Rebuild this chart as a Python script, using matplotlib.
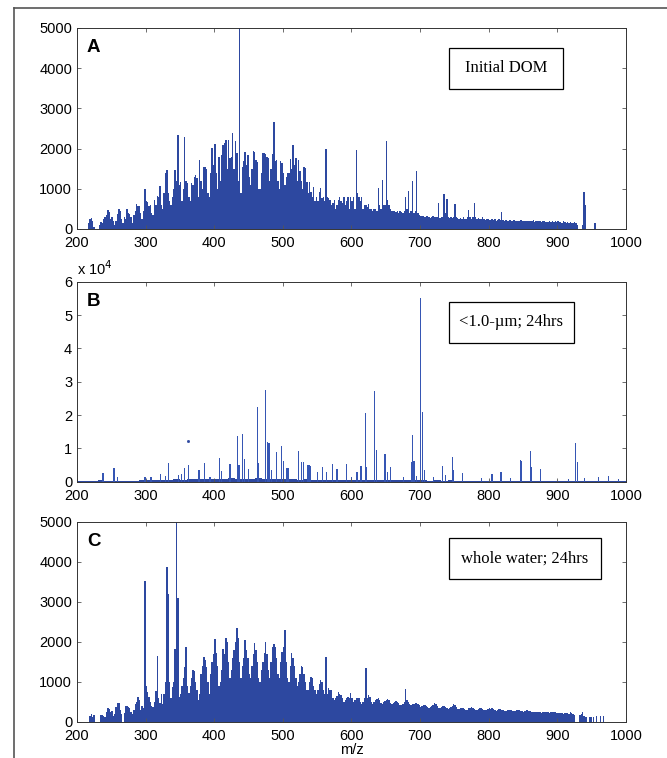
import numpy as np
import matplotlib
matplotlib.use("Agg")
import matplotlib.pyplot as plt
from matplotlib.patches import Rectangle
from matplotlib.lines import Line2D

plt.rcParams['font.family'] = ['Liberation Sans', 'DejaVu Sans']

# --- Panel A : Initial DOM, one row = one 14-Da cluster of odd masses (201, 203, ... 213 ; 215 ...)
a_rows = [
    [150, 10, 10, 10, 10, 10, 10],
    [10, 150, 250, 280, 200, 60, 10],
    [10, 10, 90, 180, 150, 240, 300],
    [350, 460, 430, 250, 310, 200, 100],
    [200, 380, 500, 450, 250, 150, 300],
    [250, 490, 400, 380, 300, 150, 350],
    [450, 610, 560, 560, 400, 250, 450],
    [1000, 700, 680, 560, 600, 400, 350],
    [720, 600, 820, 800, 1070, 600, 500],
    [900, 1390, 1470, 900, 700, 600, 800],
    [1000, 1470, 1200, 2340, 1100, 1180, 700],
    [1000, 2300, 1200, 1140, 800, 700, 1150],
    [1100, 1300, 1350, 1260, 800, 1720, 1200],
    [1000, 1550, 1550, 1500, 900, 800, 1400],
    [2010, 1600, 2110, 1400, 1000, 1800, 1200],
    [1840, 2090, 2130, 2220, 1500, 2210, 1760],
    [1800, 2400, 1500, 2190, 1900, 1200, 5200],
    [900, 1550, 1700, 1920, 1600, 1840, 1300],
    [1100, 1500, 1930, 1920, 1720, 1670, 1000],
    [1000, 1400, 1880, 1900, 1860, 1800, 1760],
    [1200, 1500, 1860, 2670, 1700, 1720, 1200],
    [1000, 1680, 1630, 1400, 1100, 1300, 1390],
    [1390, 1730, 1500, 2090, 1600, 1760, 1200],
    [1720, 1430, 1200, 1000, 1550, 1510, 1180],
    [900, 1180, 930, 800, 1050, 700, 800],
    [700, 930, 1010, 760, 800, 700, 1990],
    [800, 760, 720, 600, 650, 720, 500],
    [600, 720, 800, 700, 650, 800, 600],
    [700, 800, 500, 800, 700, 800, 500],
    [1960, 900, 800, 700, 800, 500, 600],
    [600, 550, 610, 500, 500, 450, 500],
    [500, 450, 1010, 600, 500, 1220, 600],
    [600, 2190, 720, 600, 500, 450, 450],
    [450, 420, 450, 400, 450, 420, 400],
    [450, 800, 500, 945, 400, 450, 1200],
    [400, 450, 1430, 400, 350, 330, 330],
    [330, 300, 320, 330, 300, 280, 300],
    [320, 300, 300, 300, 640, 280, 300],
    [300, 860, 400, 740, 300, 280, 300],
    [280, 300, 610, 300, 280, 260, 280],
    [250, 310, 250, 260, 300, 470, 300],
    [260, 300, 640, 300, 250, 280, 240],
    [250, 300, 240, 220, 260, 250, 220],
    [230, 260, 220, 240, 210, 220, 250],
    [220, 415, 220, 200, 230, 200, 210],
    [220, 200, 210, 230, 200, 190, 210],
    [200, 220, 190, 200, 210, 190, 200],
    [210, 190, 200, 220, 180, 200, 190],
    [190, 200, 180, 210, 190, 170, 180],
    [180, 200, 170, 190, 180, 200, 170],
    [190, 170, 180, 160, 190, 170, 160],
    [170, 160, 180, 150, 160, 170, 150],
    [100, 10, 10, 10, 100, 930, 600],
    [10, 10, 10, 10, 10, 10, 140],
    [10, 10, 10, 10, 10, 10, 10],
    [10, 10, 10, 10, 10, 10, 10],
    [10, 10, 10, 10, 10, 10, 10],
]

# --- Panel C : whole water 24 hrs, same layout
c_rows = [
    [10, 10, 10, 10, 10, 10, 10],
    [10, 10, 150, 200, 130, 180, 10],
    [10, 10, 10, 170, 175, 160, 120],
    [250, 340, 320, 260, 280, 150, 200],
    [380, 470, 470, 300, 200, 10, 220],
    [400, 400, 380, 340, 250, 200, 300],
    [450, 500, 630, 550, 300, 400, 350],
    [3520, 900, 750, 630, 500, 400, 380],
    [500, 775, 1640, 600, 480, 700, 450],
    [700, 1000, 3870, 3200, 1000, 600, 880],
    [1000, 1830, 5200, 3100, 630, 700, 900],
    [1100, 1380, 1880, 900, 720, 900, 1100],
    [1300, 1280, 1000, 800, 550, 700, 1200],
    [1400, 1630, 1550, 1380, 1000, 700, 1200],
    [1500, 1700, 2075, 1720, 1400, 900, 1000],
    [1300, 1830, 1700, 2090, 2010, 1500, 1100],
    [1300, 1600, 1800, 2000, 2340, 2090, 1500],
    [1100, 1400, 1600, 2050, 1800, 1600, 1200],
    [1100, 1400, 1700, 1970, 1800, 1500, 1100],
    [1000, 1300, 1500, 1720, 2010, 1700, 1300],
    [1100, 1500, 1880, 1940, 1880, 1600, 1200],
    [1100, 1500, 1760, 1880, 2300, 1500, 1100],
    [1000, 1400, 1720, 1590, 1400, 1100, 900],
    [1000, 1200, 1400, 1380, 1200, 1000, 800],
    [800, 1000, 1130, 1090, 900, 800, 700],
    [800, 950, 1050, 1010, 800, 700, 1630],
    [700, 840, 800, 800, 600, 550, 600],
    [650, 760, 700, 680, 600, 500, 550],
    [600, 630, 600, 730, 600, 500, 550],
    [600, 610, 600, 500, 450, 500, 610],
    [1360, 600, 680, 630, 500, 450, 500],
    [550, 570, 590, 550, 480, 450, 500],
    [520, 560, 575, 550, 480, 450, 480],
    [500, 525, 510, 480, 430, 420, 450],
    [500, 820, 550, 500, 450, 420, 440],
    [460, 470, 480, 450, 420, 380, 400],
    [420, 425, 410, 380, 360, 380, 400],
    [430, 470, 440, 400, 360, 350, 380],
    [390, 400, 380, 350, 330, 340, 380],
    [400, 440, 420, 380, 330, 320, 340],
    [360, 350, 330, 300, 310, 340, 360],
    [370, 360, 330, 300, 300, 320, 340],
    [340, 330, 310, 290, 290, 320, 340],
    [330, 340, 320, 290, 280, 300, 320],
    [320, 310, 300, 280, 280, 300, 310],
    [300, 290, 280, 270, 280, 300, 300],
    [290, 280, 270, 260, 270, 290, 300],
    [280, 270, 250, 240, 250, 260, 260],
    [250, 240, 230, 240, 250, 260, 250],
    [240, 230, 250, 260, 250, 240, 230],
    [230, 220, 230, 220, 210, 230, 220],
    [220, 210, 240, 220, 200, 180, 10],
    [10, 10, 175, 200, 260, 150, 130],
    [130, 10, 130, 130, 10, 130, 10],
    [150, 10, 10, 150, 10, 150, 10],
    [10, 10, 10, 10, 10, 10, 10],
    [10, 10, 10, 10, 10, 10, 10],
]

# --- Panel B : <1.0 um 24 hrs ; low baseline (per 10 m/z, from 200) + isolated peaks
b_base = [300, 300, 350, 400, 300, 300, 350, 250, 300, 400,
          500, 600, 500, 600, 700, 600, 700, 800, 700, 900,
          800, 900, 1000, 900, 800, 900, 1000, 900, 800, 900,
          800, 700, 600, 700, 600, 500, 600, 500, 600, 500,
          600, 500, 450, 500, 400, 450, 500, 400, 450, 400,
          400, 350, 400, 350, 400, 350, 300, 350, 300, 350,
          300, 350, 300, 300, 250, 300, 250, 300, 250, 250,
          250, 200, 250, 200, 250, 200, 200, 250, 200, 200]
b_peak_mz = [238, 254, 259, 299, 308, 322, 329, 333, 348, 352, 357, 363, 378, 386,
             394, 408, 411, 423, 434, 436, 441, 444, 450, 463, 465, 475, 478, 480,
             484, 491, 498, 501, 506, 508, 523, 527, 530, 536, 538, 540, 550, 558,
             564, 572, 579, 593, 600, 608, 614, 620, 621, 622, 634, 636, 649, 652,
             657, 676, 688, 689, 691, 695, 701, 703, 704, 706, 720, 733, 737, 747,
             749, 762, 790, 805, 818, 832, 846, 848, 861, 862, 875, 916, 927, 929,
             940, 960, 975, 989]
b_peak_int = [2700, 4000, 1500, 1300, 1500, 2300, 1700, 5500, 2000, 2300, 4000, 4900, 3500, 5500,
              1500, 7200, 3300, 5300, 13700, 5000, 14300, 6700, 3800, 22300, 5500, 27500, 12000, 11500,
              3500, 9000, 10800, 6300, 4000, 4000, 9300, 6000, 5800, 5000, 5000, 4800, 3000, 4500,
              3000, 5200, 3800, 5200, 1300, 2800, 4700, 20700, 14000, 4500, 27200, 9500, 8300, 3000,
              4500, 1500, 6000, 14100, 6200, 1800, 55200, 21000, 8300, 3500, 1500, 4700, 2000, 7300,
              3500, 2500, 1200, 2300, 2800, 1000, 6500, 6300, 9300, 4500, 3700, 800, 11500, 6000,
              1200, 1500, 1700, 800]
b_dot = (362, 12300)

BLUE = '#2d48a0'
SPIKE = '#3656b4'
FS = 10.5


def style_axes(ax, yticks):
    ax.set_xlim(200, 1000)
    ax.set_xticks(np.arange(200, 1001, 100))
    ax.set_yticks(yticks)
    ax.tick_params(direction='in', top=True, right=True, length=3, width=0.6,
                   color='#555555', labelsize=FS)
    ax.tick_params(axis='x', pad=5.2)
    ax.tick_params(axis='y', pad=3.4)
    for s in ax.spines.values():
        s.set_linewidth(0.7)
        s.set_color('#333333')


def label_box(ax, text, x0, y0, x1, y1):
    ax.add_patch(Rectangle((x0, y0), x1 - x0, y1 - y0, transform=ax.transAxes,
                           fill=False, edgecolor='black', linewidth=0.9, zorder=5))
    ax.text((x0 + x1) / 2, (y0 + y1) / 2, text, transform=ax.transAxes,
            ha='center', va='center', fontsize=12, family=['Liberation Serif', 'DejaVu Serif'],
            zorder=6)


fig = plt.figure(figsize=(6.67, 7.58), dpi=100)
axA = fig.add_axes([0.1154, 0.6979, 0.823, 0.2652])
axB = fig.add_axes([0.1154, 0.3645, 0.823, 0.2639])
axC = fig.add_axes([0.1154, 0.0475, 0.823, 0.2639])

# A
a_vals = np.concatenate(a_rows)
a_mz = 201 + 2 * np.arange(len(a_vals))
axA.bar(a_mz, a_vals, width=2.0, color=BLUE, linewidth=0)
axA.set_ylim(0, 5000)
style_axes(axA, np.arange(0, 5001, 1000))
axA.text(0.018, 0.945, 'A', transform=axA.transAxes, fontsize=13.5, fontweight='bold',
         va='top', ha='left')
label_box(axA, 'Initial DOM', 0.678, 0.697, 0.885, 0.90)

# B
b_mz = 205 + 10 * np.arange(len(b_base))
axB.bar(b_mz, np.array(b_base) / 1e4, width=10, color=BLUE, linewidth=0)
axB.bar(b_peak_mz, np.array(b_peak_int) / 1e4, width=1.8, color=SPIKE, linewidth=0)
axB.plot(b_dot[0], b_dot[1] / 1e4, marker='s', ms=1.0, color=BLUE, linestyle='none')
axB.set_ylim(0, 6)
style_axes(axB, np.arange(0, 7, 1))
axB.text(0.0, 1.02, r'x 10$^4$', transform=axB.transAxes, fontsize=FS,
         va='bottom', ha='left')
axB.text(0.018, 0.945, 'B', transform=axB.transAxes, fontsize=13.5, fontweight='bold',
         va='top', ha='left')
label_box(axB, '<1.0-\u00b5m; 24hrs', 0.678, 0.695, 0.905, 0.90)

# C
c_vals = np.concatenate(c_rows)
c_mz = 201 + 2 * np.arange(len(c_vals))
axC.bar(c_mz, c_vals, width=2.0, color=BLUE, linewidth=0)
axC.set_ylim(0, 5000)
style_axes(axC, np.arange(0, 5001, 1000))
axC.text(0.018, 0.945, 'C', transform=axC.transAxes, fontsize=13.5, fontweight='bold',
         va='top', ha='left')
label_box(axC, 'whole water; 24hrs', 0.678, 0.715, 0.954, 0.92)
axC.set_xlabel('m/z', fontsize=FS, labelpad=0)

# outer frame of the figure panel (cropped at right/bottom)
fig.add_artist(Line2D([14 / 667, 14 / 667], [0, 1 - 8 / 758], color='#555555', lw=1.2))
fig.add_artist(Line2D([14 / 667, 1], [1 - 8 / 758, 1 - 8 / 758], color='#555555', lw=1.2))

fig.savefig('out.png', dpi=100, facecolor='white')
